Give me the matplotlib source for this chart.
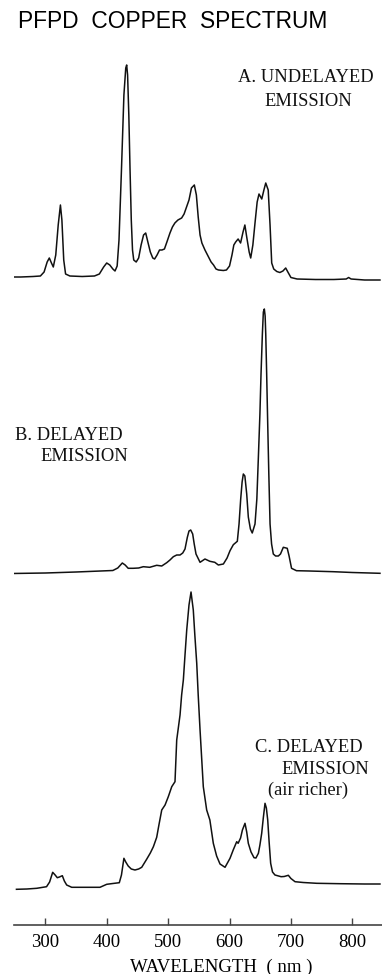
import matplotlib
matplotlib.use("Agg")
import matplotlib.pyplot as plt

# --- spectra (wavelength in nm, intensity in arbitrary units above baseline) ---
wl_a = [246, 260, 280, 292, 298, 303, 306.5, 310, 313, 317, 321, 324.6, 327, 330, 333,
        340, 360, 380, 388, 395, 400, 405, 410, 413.5, 417, 420, 424, 428, 431, 432.5,
        434, 436, 438, 440, 442, 444, 448, 452, 456, 460, 463.5, 467, 471, 475, 478,
        482, 486, 490, 494, 498, 503, 507, 511, 516, 522, 526, 530, 534, 538, 542.7,
        546, 549, 552, 555, 560, 565, 570, 574, 578, 582, 590, 595, 600, 604, 607,
        610, 614, 618, 622, 625, 628, 632, 634.5, 638, 641.5, 645, 648, 652.5, 656,
        659, 663, 666, 668.7, 672, 677, 682, 687, 691.5, 695, 700, 710, 740, 770,
        790, 794, 798, 820, 845]
int_a = [3, 3, 3.5, 4, 8, 18, 22, 17, 13, 25, 55, 75, 60, 20, 6,
         4, 3.5, 4, 6, 13, 17, 15, 11, 9, 14, 40, 110, 185, 212, 215,
         205, 165, 110, 60, 30, 20, 18, 22, 35, 45, 47, 38, 28, 22, 21,
         25, 30, 30, 31, 38, 47, 53, 57, 60, 62, 66, 73, 80, 92, 95,
         85, 63, 45, 37, 30, 24, 18, 15, 11, 10, 9.5, 10, 14, 25, 35,
         38, 41, 37, 48, 55, 43, 28, 22, 35, 57, 78, 86, 81, 90,
         97, 90, 55, 17, 11, 8.5, 7.5, 9, 12, 8, 2.5, 1, 0.5, 0.5,
         1, 2.5, 1, 0, 0]

wl_b = [246, 300, 350, 390, 410, 418, 425.4, 430, 435, 443, 452, 459.6, 470, 481.4,
        489.6, 497.7, 503, 508.5, 514, 519.4, 523.8, 527.5, 531.3, 534, 536.8, 540,
        542.5, 545.4, 552, 560, 568, 576, 581.8, 590, 596, 600.8, 606.2, 612.7,
        615.5, 618.2, 620.5, 622.5, 625, 628, 630.6, 634, 637, 641.5, 644.5, 647,
        649.5, 651.3, 653.5, 655.1, 656.7, 658, 659, 660.5, 662.2, 664, 666, 668.5,
        671.3, 675, 679.5, 683, 687.6, 694, 697, 701, 709, 730, 769, 800, 845]
int_b = [0.5, 1, 2, 3, 3.5, 6, 11, 9, 5.7, 5.7, 6, 7.3, 6.7, 8.7,
         8, 11.3, 14, 17.3, 19, 19, 21, 25, 36.7, 43, 44, 40,
         30, 20, 11.7, 15, 12.7, 11.7, 9, 10, 16, 23.3, 29.3, 32.7,
         50, 75, 92, 100, 98, 80, 57, 45, 41, 50, 75, 117,
         160, 200, 240, 262, 265, 258, 240, 200, 150, 100, 50, 30,
         20, 18, 18, 20, 26.7, 25.7, 18, 5.7, 3.3, 3, 2.3, 1.5, 0.7]

wl_c = [253, 270, 286, 302, 307, 312, 316, 319.5, 323, 327.7, 331, 334.8, 343, 360,
        389, 400, 410, 420.5, 424, 428, 431, 435, 440, 446, 452, 457, 465, 471,
        476, 481.4, 485, 489.6, 495, 500.3, 505.9, 511.2, 514, 519.4, 522, 524.8,
        527.5, 530.3, 534, 537.3, 541, 543.5, 546.6, 549, 552, 557.3, 562.8, 568,
        573.6, 579, 584.5, 592.7, 600.8, 606, 611.7, 614, 618, 621, 625.2, 628,
        630.6, 635, 639.9, 643, 647, 649.5, 652.4, 655, 657.8, 660, 662.2, 664.5,
        667, 670, 674, 684, 689, 695.8, 700, 706.7, 720, 742, 780, 820, 845]
int_c = [0.7, 1, 1.7, 3.3, 8, 17.7, 15, 12.3, 13, 14.3, 9, 5, 2.7, 2.7,
         2.7, 5.7, 6.5, 7.3, 15, 31.7, 28, 24, 21, 20, 21, 22.7, 30.7, 37,
         43.3, 52.7, 65, 80, 85, 93.3, 103.3, 108.3, 150, 175, 195, 210,
         235, 260, 285, 298, 280, 255, 226.7, 195, 160, 103.3, 80, 70,
         46.7, 34, 26, 22.7, 31.7, 40, 48.3, 46.7, 52, 60, 66.7, 58,
         46.7, 38, 32.3, 32, 36.7, 45, 56.7, 72, 86.7, 82, 70, 48,
         26.7, 18, 15, 13.3, 13.5, 14.7, 11.5, 8.3, 7.5, 6.7, 6.3, 6, 6]

tick_values = [300, 400, 500, 600, 700, 800]
tick_labels = ["300", "400", "500", "600", "700", "800"]
wl_range = (249, 848)

title_text = "PFPD  COPPER  SPECTRUM"
x_label = "WAVELENGTH  ( nm )"

# --- figure layout in pixel units ---
W, H = 382, 974
fig = plt.figure(figsize=(W / 100, H / 100), dpi=100)
fig.patch.set_facecolor("white")

serif = ["Liberation Serif", "DejaVu Serif"]
sans = ["Liberation Sans", "DejaVu Sans"]


def frac(x, y):
    return x / W, 1 - y / H


ax_left = 14 / W
ax_width = (381.8 - 14) / W


def panel(baseline_px, below, above):
    """Axes whose y-units are one pixel, with zero on the spectrum baseline."""
    bottom = 1 - (baseline_px + below) / H
    ax = fig.add_axes([ax_left, bottom, ax_width, (below + above) / H])
    ax.set_xlim(*wl_range)
    ax.set_ylim(-below, above)
    ax.patch.set_alpha(0)
    return ax


line_kw = dict(color="#111111", lw=1.1, solid_joinstyle="round")

ax_a = panel(280, 10, 225)
ax_a.plot(wl_a, int_a, **line_kw)
ax_a.axis("off")

ax_b = panel(574, 10, 275)
ax_b.plot(wl_b, int_b, **line_kw)
ax_b.axis("off")

# bottom panel carries the wavelength axis, 35 px below its baseline
ax_c = panel(890, 34.7, 305)
ax_c.plot(wl_c, int_c, **line_kw)
for side in ("left", "right", "top"):
    ax_c.spines[side].set_visible(False)
ax_c.spines["bottom"].set_color("#444444")
ax_c.spines["bottom"].set_linewidth(1.2)
ax_c.set_yticks([])
ax_c.set_xticks(tick_values)
ax_c.set_xticklabels(tick_labels, family=serif, fontsize=13.5)
ax_c.tick_params(axis="x", direction="in", length=5.2, width=1.0,
                 color="#444444", pad=7)

# --- texts ---
fig.text(*frac(18, 22), title_text, family=sans, fontsize=16.4,
         ha="left", va="center")

lab_kw = dict(family=serif, fontsize=13.3, va="center", color="#111111")
fig.text(*frac(238, 77), "A. UNDELAYED", ha="left", **lab_kw)
fig.text(*frac(308, 102), "EMISSION", ha="center", **lab_kw)

fig.text(*frac(15, 435), "B. DELAYED", ha="left", **lab_kw)
fig.text(*frac(40, 457), "EMISSION", ha="left", **lab_kw)

fig.text(*frac(255, 747), "C. DELAYED", ha="left", **lab_kw)
fig.text(*frac(281, 769), "EMISSION", ha="left", **lab_kw)
fig.text(*frac(268, 790), "(air richer)", ha="left", **lab_kw)

fig.text(*frac(221, 967), x_label, family=serif, fontsize=13.5,
         ha="center", va="center")

fig.savefig("out.png", dpi=100)
